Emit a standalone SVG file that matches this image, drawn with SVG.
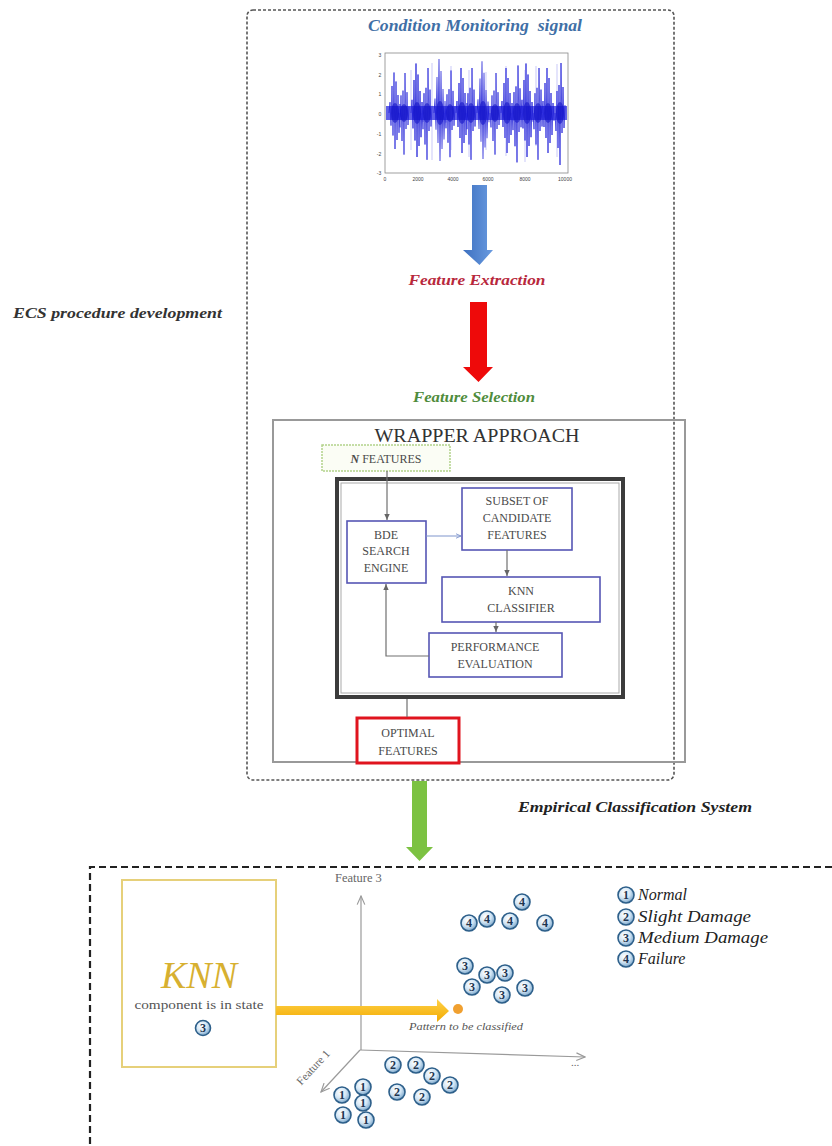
<svg xmlns="http://www.w3.org/2000/svg" width="832" height="1146" viewBox="0 0 832 1146">
<style>
.serif{font-family:"Liberation Serif",Tinos,"Times New Roman","DejaVu Serif","Noto Serif",serif}
.hdr{font-family:"Liberation Serif",Tinos,"Times New Roman","DejaVu Serif","Noto Serif",serif;font-style:italic;font-weight:bold}
.box{fill:#fff;stroke:#5656b4;stroke-width:1.6}
.bt{font-family:"Liberation Serif",Tinos,"Times New Roman","DejaVu Serif","Noto Serif",serif;font-size:12px;fill:#4a4a4a;text-anchor:middle}
.ln{stroke:#707070;stroke-width:1.2;fill:none}
.ax{stroke:#9a9a9a;stroke-width:1.2;fill:none}
.ball circle{fill:url(#bg);stroke:#2d5f8a;stroke-width:1.6}
.ball text{font-family:"Liberation Serif",Tinos,"Times New Roman","DejaVu Serif",serif;font-size:12px;font-weight:bold;fill:#1f3550;text-anchor:middle}
.tick{font-family:"Liberation Sans",Arial,sans-serif;font-size:5px;fill:#444;text-anchor:middle}
.leg{font-family:"Liberation Serif",Tinos,"Times New Roman","DejaVu Serif","Noto Serif",serif;font-style:italic;font-size:16px;fill:#222}
</style>
<defs>
<radialGradient id="bg" cx="0.4" cy="0.35" r="0.65">
<stop offset="0" stop-color="#ffffff"/>
<stop offset="0.55" stop-color="#d3e6f5"/>
<stop offset="1" stop-color="#7ea8cb"/>
</radialGradient>
<linearGradient id="blueg" x1="0" y1="0" x2="1" y2="0">
<stop offset="0" stop-color="#3d70c0"/>
<stop offset="1" stop-color="#6a9be0"/>
</linearGradient>
<linearGradient id="yelg" x1="0" y1="0" x2="0" y2="1">
<stop offset="0" stop-color="#ffd24a"/>
<stop offset="1" stop-color="#f2aa00"/>
</linearGradient>
<marker id="ah" viewBox="0 0 10 10" refX="9" refY="5" markerWidth="6" markerHeight="6" orient="auto">
<path d="M0,1 L9,5 L0,9 Z" fill="#666"/>
</marker>
<marker id="ahb" viewBox="0 0 10 10" refX="9" refY="5" markerWidth="6" markerHeight="6" orient="auto">
<path d="M0,1 L9,5 L0,9" fill="none" stroke="#7f95cc" stroke-width="1.5"/>
</marker>
<marker id="ao" viewBox="0 0 10 10" refX="9" refY="5" markerWidth="8" markerHeight="8" orient="auto">
<path d="M0,1 L9,5 L0,9" fill="none" stroke="#9a9a9a" stroke-width="1.2"/>
</marker>
<path id="burst" d="M-6,0 L-5,-12 L-4,14 L-3,-30 L-2,25 L-1,-45 L0,40 L1,-35 L2,30 L3,-20 L4,22 L5,-10 L6,8"/>
<path id="burst2" d="M-5,0 L-4,18 L-3,-22 L-2,35 L-1,-28 L0,52 L1,-50 L2,20 L3,-26 L4,15 L5,-8"/>
</defs>

<!-- Upper dashed frame -->
<g id="ecs-frame">
<rect x="247" y="10" width="427" height="770" rx="6" fill="none" stroke="#555" stroke-width="1.6" stroke-dasharray="3,2"/>
<text class="hdr" x="13" y="318" font-size="15.5" fill="#333" textLength="209" lengthAdjust="spacingAndGlyphs">ECS procedure development</text>
</g>

<g id="signal">
<text class="hdr" x="475" y="31" font-size="16" fill="#3f6fa6" text-anchor="middle" xml:space="preserve" textLength="214" lengthAdjust="spacingAndGlyphs">Condition Monitoring  signal</text>
<rect x="385" y="53" width="183" height="120" fill="#fff" stroke="#888" stroke-width="0.8"/>
<rect x="386" y="106" width="181" height="14" fill="#2a2ae0" opacity="0.75"/>
<g stroke="#1a1ad8" stroke-width="0.9" fill="none" opacity="0.85">
<use href="#burst" transform="translate(395,113) scale(1,0.9)"/>
<use href="#burst2" transform="translate(404,113) scale(1,0.8)"/>
<use href="#burst" transform="translate(417,113) scale(1,1.1)"/>
<use href="#burst2" transform="translate(427,113) scale(1,0.9)"/>
<use href="#burst" transform="translate(440,113) scale(1,1.2)"/>
<use href="#burst2" transform="translate(450,113) scale(1,0.85)"/>
<use href="#burst" transform="translate(462,113) scale(1,1.0)"/>
<use href="#burst2" transform="translate(471,113) scale(1,0.9)"/>
<use href="#burst" transform="translate(483,113) scale(1,1.15)"/>
<use href="#burst2" transform="translate(495,113) scale(1,0.8)"/>
<use href="#burst" transform="translate(507,113) scale(1,1.0)"/>
<use href="#burst2" transform="translate(517,113) scale(1,0.95)"/>
<use href="#burst" transform="translate(527,113) scale(1,1.1)"/>
<use href="#burst2" transform="translate(538,113) scale(1,0.9)"/>
<use href="#burst" transform="translate(548,113) scale(1,1.0)"/>
<use href="#burst2" transform="translate(560,113) scale(1,1.0)"/>
</g>
<g stroke="#6b6bf0" stroke-width="0.6" opacity="0.6">
<path d="M432,63 V160 M451,66 V150 M469,70 V157 M486,72 V150 M506,66 V156 M525,70 V162 M536,66 V146 M557,64 V157 M411,70 V150"/>
</g>
<g fill="#1414c8" opacity="0.6">
<ellipse cx="395" cy="113" rx="4" ry="10"/><ellipse cx="404" cy="113" rx="4" ry="9"/>
<ellipse cx="417" cy="113" rx="4" ry="11"/><ellipse cx="427" cy="113" rx="4" ry="10"/>
<ellipse cx="440" cy="113" rx="4" ry="12"/><ellipse cx="450" cy="113" rx="4" ry="9"/>
<ellipse cx="462" cy="113" rx="4" ry="11"/><ellipse cx="471" cy="113" rx="4" ry="10"/>
<ellipse cx="483" cy="113" rx="4" ry="12"/><ellipse cx="495" cy="113" rx="4" ry="9"/>
<ellipse cx="507" cy="113" rx="4" ry="11"/><ellipse cx="517" cy="113" rx="4" ry="10"/>
<ellipse cx="527" cy="113" rx="4" ry="11"/><ellipse cx="538" cy="113" rx="4" ry="10"/>
<ellipse cx="548" cy="113" rx="4" ry="10"/><ellipse cx="560" cy="113" rx="4" ry="11"/>
</g>
<g class="tick">
<text x="380" y="57">3</text><text x="380" y="77">2</text><text x="380" y="96">1</text>
<text x="380" y="116">0</text><text x="379" y="136">-1</text><text x="379" y="156">-2</text><text x="379" y="175">-3</text>
<text x="385" y="181">0</text><text x="418" y="181">2000</text><text x="453" y="181">4000</text>
<text x="488" y="181">6000</text><text x="525" y="181">8000</text><text x="565" y="181">10000</text>
</g>
</g>

<g id="arrow-blue">
<path d="M472,185 H487 V250 H493 L479.5,265 L463,250 H472 Z" fill="url(#blueg)"/>
</g>
<g id="feature-extraction">
<text class="hdr" x="477" y="285" font-size="15.5" fill="#b8283c" text-anchor="middle" textLength="137" lengthAdjust="spacingAndGlyphs">Feature Extraction</text>
</g>
<g id="arrow-red">
<path d="M470,302 H487 V367 H493 L478.5,382 L463,367 H470 Z" fill="#ee0a0a"/>
</g>
<g id="feature-selection">
<text class="hdr" x="474" y="402" font-size="15.5" fill="#4f8c3c" text-anchor="middle" textLength="122" lengthAdjust="spacingAndGlyphs">Feature Selection</text>
</g>

<g id="wrapper">
<rect x="273" y="420" width="412" height="342" fill="none" stroke="#999" stroke-width="2"/>
<text class="serif" x="477" y="442" font-size="19" fill="#333" text-anchor="middle" textLength="205" lengthAdjust="spacingAndGlyphs">WRAPPER APPROACH</text>
</g>
<g id="n-features">
<rect x="322" y="445" width="128" height="26" fill="#fbfdf5" stroke="#b3d28a" stroke-width="1.5" stroke-dasharray="2,1"/>
<text class="bt" x="386" y="463"><tspan font-weight="bold" font-style="italic">N</tspan> FEATURES</text>
</g>
<g id="loop-frame">
<rect x="337" y="479" width="286" height="218" fill="#fff" stroke="#3c3c3c" stroke-width="4"/>
<rect x="341" y="483" width="278" height="210" fill="none" stroke="#aaa" stroke-width="1"/>
</g>
<g id="bde">
<rect class="box" x="347" y="521" width="79" height="62"/>
<text class="bt" x="386" y="539">BDE</text>
<text class="bt" x="386" y="555">SEARCH</text>
<text class="bt" x="386" y="572">ENGINE</text>
</g>
<g id="subset">
<rect class="box" x="462" y="488" width="110" height="62"/>
<text class="bt" x="517" y="505">SUBSET OF</text>
<text class="bt" x="517" y="522">CANDIDATE</text>
<text class="bt" x="517" y="539">FEATURES</text>
</g>
<g id="knn-classifier">
<rect class="box" x="442" y="577" width="158" height="45"/>
<text class="bt" x="521" y="595">KNN</text>
<text class="bt" x="521" y="612">CLASSIFIER</text>
</g>
<g id="performance">
<rect class="box" x="429" y="633" width="133" height="44"/>
<text class="bt" x="495" y="651" fill="#4d5a3a">PERFORMANCE</text>
<text class="bt" x="495" y="668">EVALUATION</text>
</g>
<g id="optimal">
<rect x="357" y="718" width="102" height="45" fill="#fff" stroke="#e0141e" stroke-width="3"/>
<text class="bt" x="408" y="737" fill="#d8484c">OPTIMAL</text>
<text class="bt" x="408" y="755" fill="#d8484c">FEATURES</text>
</g>

<g id="connectors">
<line class="ln" x1="387" y1="471" x2="387" y2="520" marker-end="url(#ah)"/>
<line x1="426" y1="536" x2="461" y2="536" stroke="#7f95cc" stroke-width="1" marker-end="url(#ahb)"/>
<line class="ln" x1="507" y1="550" x2="507" y2="576" marker-end="url(#ah)"/>
<line class="ln" x1="496" y1="622" x2="496" y2="632" marker-end="url(#ah)"/>
<polyline class="ln" points="429,656 386,656 386,584" marker-end="url(#ah)"/>
<line class="ln" x1="407" y1="699" x2="407" y2="717"/>
</g>

<g id="arrow-green">
<path d="M412,781 H427 V847 H433 L419.5,861 L406,847 H412 Z" fill="#7cc242"/>
</g>
<g id="ecs-title">
<text class="hdr" x="518" y="812" font-size="15" fill="#222" textLength="234" lengthAdjust="spacingAndGlyphs">Empirical Classification System</text>
</g>

<g id="ecs-frame-bottom">
<path d="M832,867 H90 V1146" fill="none" stroke="#222" stroke-width="2.2" stroke-dasharray="7,4"/>
</g>

<g id="axes">
<line class="ax" x1="361" y1="1050" x2="361" y2="896" marker-end="url(#ao)"/>
<line class="ax" x1="360" y1="1050" x2="585" y2="1057" marker-end="url(#ao)"/>
<line class="ax" x1="360" y1="1050" x2="321" y2="1092" marker-end="url(#ao)"/>
<text class="serif" x="335" y="882" font-size="12.5" fill="#666">Feature 3</text>
<text class="serif" x="0" y="0" font-size="11.5" fill="#666" text-anchor="middle" transform="translate(316,1070) rotate(-47)">Feature 1</text>
<text class="serif" x="575" y="1066" font-size="11" fill="#666" text-anchor="middle">...</text>
</g>

<g id="knn-box">
<rect x="122" y="880" width="154" height="187" fill="#fff" stroke="#e6d07a" stroke-width="2"/>
<text class="serif" x="199" y="988" font-size="38" font-style="italic" fill="#d7b030" text-anchor="middle">KNN</text>
<text class="serif" x="199" y="1009" font-size="13.5" fill="#555" text-anchor="middle" textLength="129" lengthAdjust="spacingAndGlyphs">component is in state</text>
<g class="ball"><circle cx="203" cy="1028" r="7.5"/><text x="203" y="1032">3</text></g>
</g>

<g id="pattern-arrow">
<path d="M276,1006 H437 V999 L449,1011 L437,1022 V1015 H276 Z" fill="url(#yelg)"/>
</g>
<g id="pattern">
<circle cx="458" cy="1009" r="5" fill="#f0a030"/>
<text class="serif" x="409" y="1030" font-size="11" font-style="italic" fill="#555" textLength="114" lengthAdjust="spacingAndGlyphs">Pattern to be classified</text>
</g>

<g id="class4">
<g class="ball"><circle cx="522" cy="902" r="8"/><text x="522" y="906">4</text></g>
<g class="ball"><circle cx="469" cy="923" r="8"/><text x="469" y="927">4</text></g>
<g class="ball"><circle cx="487" cy="919" r="8"/><text x="487" y="923">4</text></g>
<g class="ball"><circle cx="510" cy="921" r="8"/><text x="510" y="925">4</text></g>
<g class="ball"><circle cx="545" cy="923" r="8"/><text x="545" y="927">4</text></g>
</g>
<g id="class3">
<g class="ball"><circle cx="465" cy="966" r="8"/><text x="465" y="970">3</text></g>
<g class="ball"><circle cx="487" cy="975" r="8"/><text x="487" y="979">3</text></g>
<g class="ball"><circle cx="505" cy="973" r="8"/><text x="505" y="977">3</text></g>
<g class="ball"><circle cx="472" cy="987" r="8"/><text x="472" y="991">3</text></g>
<g class="ball"><circle cx="502" cy="995" r="8"/><text x="502" y="999">3</text></g>
<g class="ball"><circle cx="525" cy="988" r="8"/><text x="525" y="992">3</text></g>
</g>
<g id="class2">
<g class="ball"><circle cx="393" cy="1065" r="8"/><text x="393" y="1069">2</text></g>
<g class="ball"><circle cx="416" cy="1065" r="8"/><text x="416" y="1069">2</text></g>
<g class="ball"><circle cx="432" cy="1076" r="8"/><text x="432" y="1080">2</text></g>
<g class="ball"><circle cx="450" cy="1085" r="8"/><text x="450" y="1089">2</text></g>
<g class="ball"><circle cx="397" cy="1092" r="8"/><text x="397" y="1096">2</text></g>
<g class="ball"><circle cx="422" cy="1097" r="8"/><text x="422" y="1101">2</text></g>
</g>
<g id="class1">
<g class="ball"><circle cx="342" cy="1095" r="8"/><text x="342" y="1099">1</text></g>
<g class="ball"><circle cx="363" cy="1087" r="8"/><text x="363" y="1091">1</text></g>
<g class="ball"><circle cx="363" cy="1103" r="8"/><text x="363" y="1107">1</text></g>
<g class="ball"><circle cx="343" cy="1115" r="8"/><text x="343" y="1119">1</text></g>
<g class="ball"><circle cx="366" cy="1120" r="8"/><text x="366" y="1124">1</text></g>
</g>

<g id="legend">
<g class="ball"><circle cx="626" cy="895" r="8"/><text x="626" y="899">1</text></g>
<g class="ball"><circle cx="626" cy="917" r="8"/><text x="626" y="921">2</text></g>
<g class="ball"><circle cx="626" cy="938" r="8"/><text x="626" y="942">3</text></g>
<g class="ball"><circle cx="626" cy="959" r="8"/><text x="626" y="963">4</text></g>
<text class="leg" x="638" y="900">Normal</text>
<text class="leg" x="638" y="922" textLength="113" lengthAdjust="spacingAndGlyphs">Slight Damage</text>
<text class="leg" x="638" y="943" textLength="130" lengthAdjust="spacingAndGlyphs">Medium Damage</text>
<text class="leg" x="638" y="964">Failure</text>
</g>
</svg>
